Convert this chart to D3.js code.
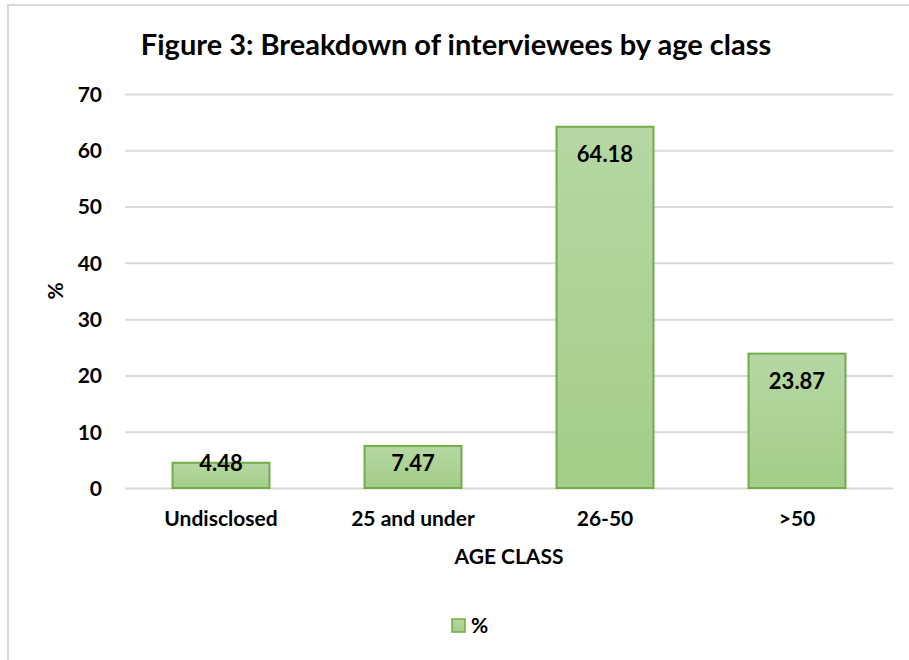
<!DOCTYPE html>
<html>
<head>
<meta charset="utf-8">
<script src="https://cdn.jsdelivr.net/npm/d3@7"></script>
<style>
  html, body { margin: 0; padding: 0; background: #fff; }
  svg { display: block; }
  text { font-family: Lato, "Open Sans", sans-serif; font-weight: bold; fill: #000; }
</style>
</head>
<body>
<svg id="chart" width="909" height="660"></svg>
<script>
// Age classes and share of interviewees (%)
const categories = ["Undisclosed", "25 and under", "26-50", ">50"];
const percentages = [4.48, 7.47, 64.18, 23.87];
const yTicks = [0, 10, 20, 30, 40, 50, 60, 70];

const title = "Figure 3: Breakdown of interviewees by age class";
const xTitle = "AGE CLASS";
const yTitle = "%";
const seriesName = "%";

const W = 909, H = 660;
const plot = { left: 125, right: 893, top: 94, bottom: 488 };

const svg = d3.select("#chart");

// gradient fill for the bars
const defs = svg.append("defs");
const grad = defs.append("linearGradient")
  .attr("id", "barFill").attr("x1", 0).attr("y1", 0).attr("x2", 0).attr("y2", 1);
grad.append("stop").attr("offset", "0%").attr("stop-color", "#b6d7a3");
grad.append("stop").attr("offset", "100%").attr("stop-color", "#a3cd88");

// chart frame (top and left edges visible)
svg.append("line").attr("x1", 7).attr("x2", W).attr("y1", 5).attr("y2", 5)
  .attr("stroke", "#d9d9d9").attr("stroke-width", 2);
svg.append("line").attr("x1", 8).attr("x2", 8).attr("y1", 4).attr("y2", H)
  .attr("stroke", "#d9d9d9").attr("stroke-width", 2);

const x = d3.scaleBand().domain(categories)
  .range([plot.left, plot.right]).paddingInner(0.495).paddingOuter(0.2475);
const y = d3.scaleLinear().domain([0, 70]).range([plot.bottom, plot.top]);

// gridlines + y labels
const yAxis = d3.axisLeft(y).tickValues(yTicks)
  .tickSize(-(plot.right - plot.left)).tickPadding(23).tickFormat(d3.format("d"));
const gy = svg.append("g").attr("transform", `translate(${plot.left},0)`).call(yAxis);
gy.select(".domain").remove();
gy.selectAll(".tick line").attr("stroke", "#d9d9d9").attr("stroke-width", 2);
gy.selectAll(".tick text").attr("font-size", 21).attr("dy", "0.35em")
  .style("font-family", "Lato, sans-serif").style("font-weight", "bold").attr("fill", "#000");

// bars
svg.append("g").selectAll("rect")
  .data(categories.map((c, i) => ({ c, v: percentages[i] })))
  .join("rect")
  .attr("x", d => x(d.c))
  .attr("y", d => y(d.v))
  .attr("width", x.bandwidth())
  .attr("height", d => y(0) - y(d.v))
  .attr("fill", "url(#barFill)")
  .attr("stroke", "#70ad47")
  .attr("stroke-width", 2);

// value labels, inside the top of each bar
svg.append("g").selectAll("text")
  .data(categories.map((c, i) => ({ c, v: percentages[i] })))
  .join("text")
  .attr("x", d => x(d.c) + x.bandwidth() / 2)
  .attr("y", d => Math.min(y(d.v) + 28, 463))
  .attr("dy", "0.35em")
  .attr("text-anchor", "middle")
  .attr("font-size", 22)
  .text(d => d3.format(".2f")(d.v));

// x axis category labels
const xAxis = d3.axisBottom(x).tickSize(0).tickPadding(23);
const gx = svg.append("g").attr("transform", `translate(0,${plot.bottom})`).call(xAxis);
gx.select(".domain").remove();
gx.selectAll(".tick text").attr("font-size", 21)
  .style("font-family", "Lato, sans-serif").style("font-weight", "bold").attr("fill", "#000");

// titles
svg.append("text").attr("x", 456).attr("y", 55).attr("text-anchor", "middle")
  .attr("font-size", 29).text(title);
svg.append("text").attr("x", (plot.left + plot.right) / 2).attr("y", 564)
  .attr("text-anchor", "middle").attr("font-size", 21).text(xTitle);
svg.append("text").attr("transform", `translate(63,${(plot.top + plot.bottom) / 2}) rotate(-90)`)
  .attr("text-anchor", "middle").attr("font-size", 21).text(yTitle);

// legend
const lg = svg.append("g").attr("transform", "translate(452,619)");
lg.append("rect").attr("width", 13).attr("height", 13)
  .attr("fill", "url(#barFill)").attr("stroke", "#70ad47").attr("stroke-width", 1.5);
lg.append("text").attr("x", 19).attr("y", 14).attr("font-size", 21).text(seriesName);
</script>
</body>
</html>
